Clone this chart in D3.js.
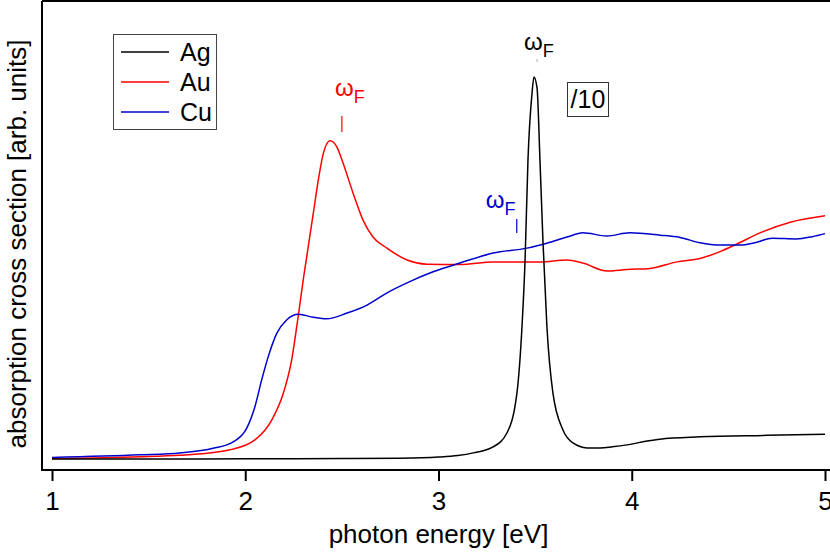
<!DOCTYPE html>
<html>
<head>
<meta charset="utf-8">
<script src="https://cdn.jsdelivr.net/npm/d3@7.9.0/dist/d3.min.js"></script>
<style>
  body { margin: 0; background: #fff; }
  svg { display: block; font-family: "Liberation Sans", Arial, sans-serif; }
</style>
</head>
<body>
<svg id="chart" width="830" height="556"></svg>
<script>
// photon energies (eV) and absorption cross sections (arb. units)
const agEnergy = [1.0, 1.5, 2.0, 2.5, 2.8, 3.0, 3.1, 3.18, 3.28, 3.354, 3.406, 3.432, 3.448, 3.463, 3.484, 3.494, 3.51, 3.525, 3.541, 3.561, 3.592, 3.644, 3.696, 3.768, 3.836, 3.9, 3.975, 4.079, 4.146, 4.353, 4.7, 5.0];
const agValue  = [0.0, 0.0, 0.0005, 0.001, 0.002, 0.005, 0.009, 0.016, 0.031, 0.068, 0.173, 0.346, 0.521, 0.783, 0.958, 1.0, 0.971, 0.783, 0.565, 0.346, 0.173, 0.076, 0.042, 0.029, 0.029, 0.032, 0.037, 0.047, 0.052, 0.058, 0.062, 0.065];

const auEnergy = [1.0, 1.455, 1.662, 1.802, 1.921, 2.05, 2.137, 2.197, 2.24, 2.275, 2.3, 2.326, 2.352, 2.378, 2.404, 2.439, 2.473, 2.506, 2.558, 2.609, 2.661, 2.733, 2.837, 2.94, 3.111, 3.282, 3.525, 3.664, 3.747, 3.872, 3.975, 4.095, 4.234, 4.353, 4.457, 4.545, 4.664, 4.82, 5.0];
const auValue  = [0.001, 0.006, 0.010, 0.015, 0.024, 0.05, 0.102, 0.172, 0.259, 0.377, 0.469, 0.556, 0.643, 0.73, 0.8, 0.833, 0.818, 0.775, 0.696, 0.626, 0.581, 0.552, 0.521, 0.51, 0.509, 0.516, 0.516, 0.521, 0.513, 0.492, 0.496, 0.499, 0.516, 0.525, 0.543, 0.563, 0.592, 0.62, 0.637];

const cuEnergy = [1.0, 1.455, 1.662, 1.834, 1.938, 2.007, 2.05, 2.085, 2.119, 2.163, 2.214, 2.275, 2.352, 2.421, 2.527, 2.63, 2.734, 2.837, 2.972, 3.111, 3.282, 3.458, 3.561, 3.665, 3.747, 3.871, 3.99, 4.146, 4.25, 4.353, 4.457, 4.56, 4.643, 4.727, 4.851, 4.934, 5.0];
const cuValue  = [0.004, 0.011, 0.016, 0.028, 0.045, 0.08, 0.137, 0.207, 0.268, 0.329, 0.364, 0.379, 0.371, 0.367, 0.382, 0.403, 0.435, 0.461, 0.49, 0.513, 0.539, 0.552, 0.565, 0.581, 0.592, 0.584, 0.592, 0.586, 0.58, 0.566, 0.56, 0.56, 0.567, 0.578, 0.576, 0.582, 0.59];

const seriesNames = ['Ag', 'Au', 'Cu'];
const seriesColors = ['#000000', '#ff0000', '#0000cc'];
const xTicks = [1, 2, 3, 4, 5];
// where the omega_F markers sit (eV)
const fermiMarks = [3.51, 2.50, 3.405];

const svg = d3.select('#chart');

let x = d3.scaleLinear().domain([1, 5]).range([52, 825]);
let y = d3.scaleLinear().domain([0, 1]).range([459, 77]);

let series = [
    agEnergy.map((e, i) => ({ e: e, v: agValue[i] })),
    auEnergy.map((e, i) => ({ e: e, v: auValue[i] })),
    cuEnergy.map((e, i) => ({ e: e, v: cuValue[i] }))
];

let line = d3.line()
    .x(d => x(d.e))
    .y(d => y(d.v))
    .curve(d3.curveMonotoneX);

// draw order: Ag on top of the others
[1, 2, 0].forEach(idx => {
    svg.append('path')
       .attr('d', line(series[idx]))
       .attr('fill', 'none')
       .attr('stroke', seriesColors[idx])
       .attr('stroke-width', 1.5);
});

// frame
svg.append('path')
   .attr('d', 'M42,1 H830 M42,1 V471 M41,470 H830')
   .attr('fill', 'none')
   .attr('stroke', '#000')
   .attr('stroke-width', 2);

// x axis
let xAxis = svg.append('g')
    .attr('transform', 'translate(0,471)')
    .call(d3.axisBottom(x).tickValues(xTicks).tickFormat(d3.format('d')).tickSize(10).tickPadding(11));
xAxis.select('.domain').remove();
xAxis.selectAll('line').attr('stroke-width', 2);
xAxis.selectAll('text')
     .attr('font-size', 26)
     .attr('font-family', '"Liberation Sans", Arial, sans-serif')
     .attr('fill', '#000');

svg.append('text')
   .attr('x', 438.5)
   .attr('y', 543)
   .attr('text-anchor', 'middle')
   .attr('font-size', 26)
   .text('photon energy [eV]');

svg.append('text')
   .attr('transform', 'translate(26,244) rotate(-90)')
   .attr('text-anchor', 'middle')
   .attr('font-size', 26)
   .text('absorption cross section [arb. units]');

// legend
let legend = svg.append('g');
legend.append('rect')
      .attr('x', 113.5).attr('y', 34.5)
      .attr('width', 103).attr('height', 95)
      .attr('fill', '#fff')
      .attr('stroke', '#444')
      .attr('stroke-width', 1);
seriesNames.forEach((name, idx) => {
    let cy = 52 + idx * 30;
    legend.append('line')
          .attr('x1', 121).attr('x2', 169)
          .attr('y1', cy).attr('y2', cy)
          .attr('stroke', seriesColors[idx])
          .attr('stroke-width', 1.5);
    legend.append('text')
          .attr('x', 180)
          .attr('y', cy + 9)
          .attr('font-size', 25)
          .text(name);
});

// "/10" tag next to the Ag peak
svg.append('rect')
   .attr('x', 567.5).attr('y', 82.5)
   .attr('width', 41).attr('height', 34)
   .attr('fill', '#fff')
   .attr('stroke', '#333')
   .attr('stroke-width', 1);
svg.append('text')
   .attr('x', 588)
   .attr('y', 108)
   .attr('text-anchor', 'middle')
   .attr('font-size', 25)
   .text('/10');

// omega_F labels: label x offset, omega baseline, tick top and bottom
let fermiLayout = [
    { dx: -13, base: 50, t0: 59, t1: 62, tickColor: '#bbb' },
    { dx: -7, base: 96, t0: 116, t1: 132, tickColor: seriesColors[1] },
    { dx: -31, base: 208, t0: 219, t1: 233, tickColor: seriesColors[2] }
];
fermiMarks.forEach((e, idx) => {
    let lay = fermiLayout[idx];
    let t = svg.append('text')
        .attr('x', x(e) + lay.dx)
        .attr('y', lay.base)
        .attr('fill', seriesColors[idx])
        .attr('font-size', 24);
    t.append('tspan').text('ω');
    t.append('tspan').attr('dy', 7).attr('font-size', 18).text('F');
    svg.append('line')
       .attr('x1', x(e)).attr('x2', x(e))
       .attr('y1', lay.t0).attr('y2', lay.t1)
       .attr('stroke', lay.tickColor)
       .attr('stroke-width', 1.2);
});
</script>
</body>
</html>
